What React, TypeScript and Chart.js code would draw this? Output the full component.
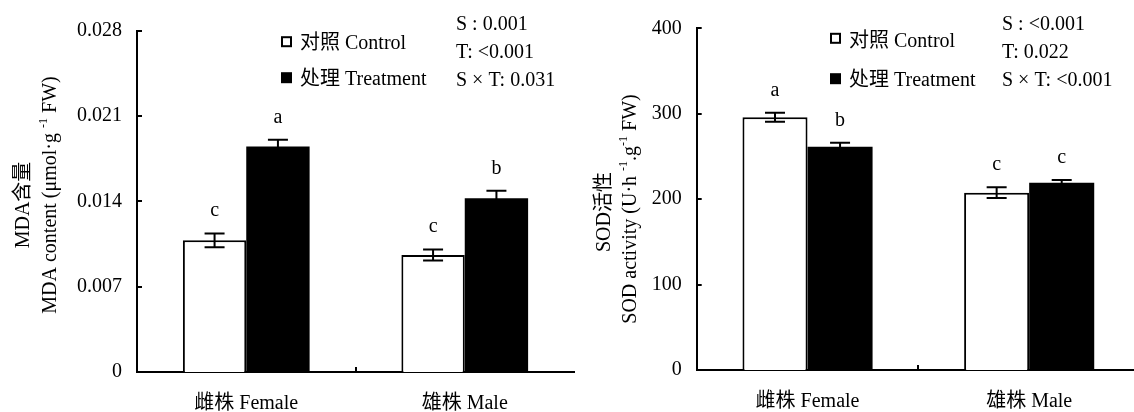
import React, { useEffect, useRef } from 'react';
import { Chart, registerables } from 'chart.js';

Chart.register(...registerables);

const FONT = '"Liberation Serif", "Times New Roman", "Noto Sans CJK SC", serif';

// ---- shared ----
const categories = ['雌株 Female', '雄株 Male'];
const seriesNames = ['对照 Control', '处理 Treatment'];

// ---- MDA panel ----
const mdaTicks = [0, 0.007, 0.014, 0.021, 0.028];
const mdaControl = [0.0108, 0.0096];
const mdaControlErr = [0.00057, 0.00045];
const mdaTreatment = [0.0185, 0.01426];
const mdaTreatmentErr = [0.00055, 0.0006];
const mdaControlLetters = ['c', 'c'];
const mdaTreatmentLetters = ['a', 'b'];
const mdaStats = ['S : 0.001', 'T: <0.001', 'S × T: 0.031'];
const mdaTitle1 = 'MDA含量';
const mdaTitle2 = [
  { t: 'MDA content (μmol·g ' },
  { t: '-1', sup: true },
  { t: ' FW)' },
];

// ---- SOD panel ----
const sodTicks = [0, 100, 200, 300, 400];
const sodControl = [295.8, 207.6];
const sodControlErr = [5.3, 6.4];
const sodTreatment = [261.4, 219.3];
const sodTreatmentErr = [4.7, 3.1];
const sodControlLetters = ['a', 'c'];
const sodTreatmentLetters = ['b', 'c'];
const sodStats = ['S : <0.001', 'T: 0.022', 'S × T: <0.001'];
const sodTitle1 = 'SOD活性';
const sodTitle2 = [
  { t: 'SOD activity (U·h ' },
  { t: '-1', sup: true },
  { t: '.g' },
  { t: '-1', sup: true },
  { t: ' FW)' },
];

type Seg = { t: string; sup?: boolean };

interface PanelProps {
  canvasLeft: number;
  canvasWidth: number;
  yWidth: number;
  padTop: number;
  padRight: number;
  xHeight: number;
  catPct: number;
  min: number;
  max: number;
  ticks: number[];
  fmt: (v: number) => string;
  control: number[];
  controlErr: number[];
  treatment: number[];
  treatmentErr: number[];
  controlLetters: string[];
  treatmentLetters: string[];
  stats: string[];
  statsX: number;
  statsY: number[];
  legendBoxX: number;
  legendBoxY: number[];
  legendTextX: number;
  legendTextY: number[];
  title1: string;
  title1Pos: [number, number];
  title2: Seg[];
  title2Pos: [number, number];
}

function drawRotatedRich(ctx: CanvasRenderingContext2D, segs: Seg[], cx: number, cy: number, size: number) {
  const main = `${size}px ${FONT}`;
  const small = `${Math.round(size * 0.62)}px ${FONT}`;
  let total = 0;
  const widths = segs.map((s) => {
    ctx.font = s.sup ? small : main;
    const w = ctx.measureText(s.t).width;
    total += w;
    return w;
  });
  ctx.save();
  ctx.translate(cx, cy);
  ctx.rotate(-Math.PI / 2);
  ctx.fillStyle = '#000';
  ctx.textAlign = 'left';
  ctx.textBaseline = 'alphabetic';
  let x = -total / 2;
  const base = size * 0.33;
  segs.forEach((s, i) => {
    ctx.font = s.sup ? small : main;
    ctx.fillText(s.t, x, s.sup ? base - size * 0.42 : base);
    x += widths[i];
  });
  ctx.restore();
}

function Panel(p: PanelProps) {
  const ref = useRef<HTMLCanvasElement>(null);
  useEffect(() => {
    const canvas = ref.current!;
    const ox = p.canvasLeft;
    const overlay = {
      id: 'overlay',
      afterDraw(chart: any) {
        const ctx: CanvasRenderingContext2D = chart.ctx;
        const area = chart.chartArea;
        const ys = chart.scales.y;
        const xs = chart.scales.x;
        ctx.save();
        ctx.strokeStyle = '#000';
        ctx.fillStyle = '#000';
        ctx.lineWidth = 2;
        // inward y ticks
        p.ticks.forEach((v) => {
          const y = Math.round(ys.getPixelForValue(v));
          ctx.beginPath();
          ctx.moveTo(area.left, y);
          ctx.lineTo(area.left + 5, y);
          ctx.stroke();
        });
        // middle x tick
        const mx = Math.round(xs.getPixelForValue(0.5));
        ctx.beginPath();
        ctx.moveTo(mx, area.bottom);
        ctx.lineTo(mx, area.bottom - 5);
        ctx.stroke();

        // error bars and letters
        const sets = [
          { vals: p.control, errs: p.controlErr, letters: p.controlLetters },
          { vals: p.treatment, errs: p.treatmentErr, letters: p.treatmentLetters },
        ];
        sets.forEach((s, di) => {
          const meta = chart.getDatasetMeta(di);
          meta.data.forEach((bar: any, i: number) => {
            const x = bar.x;
            const top = ys.getPixelForValue(s.vals[i] + s.errs[i]);
            const bot = ys.getPixelForValue(s.vals[i] - s.errs[i]);
            ctx.beginPath();
            ctx.moveTo(x, top);
            ctx.lineTo(x, bot);
            ctx.moveTo(x - 10, top);
            ctx.lineTo(x + 10, top);
            ctx.moveTo(x - 10, bot);
            ctx.lineTo(x + 10, bot);
            ctx.stroke();
            ctx.font = `20px ${FONT}`;
            ctx.textAlign = 'center';
            ctx.textBaseline = 'alphabetic';
            ctx.fillText(s.letters[i], x, top - 17);
          });
        });

        // legend
        const box = 11;
        p.legendBoxY.forEach((cy, i) => {
          const bx = p.legendBoxX - ox;
          if (i === 0) {
            ctx.fillStyle = '#fff';
            ctx.fillRect(bx, cy - box / 2, box, box);
            ctx.lineWidth = 2;
            ctx.strokeRect(bx + 1, cy - box / 2 + 1, box - 2, box - 2);
          } else {
            ctx.fillStyle = '#000';
            ctx.fillRect(bx, cy - box / 2, box, box);
          }
          ctx.fillStyle = '#000';
          ctx.font = `20px ${FONT}`;
          ctx.textAlign = 'left';
          ctx.textBaseline = 'middle';
          ctx.fillText(seriesNames[i], p.legendTextX - ox, p.legendTextY[i]);
        });

        // stats
        p.stats.forEach((t, i) => {
          ctx.font = `20px ${FONT}`;
          ctx.textAlign = 'left';
          ctx.textBaseline = 'middle';
          ctx.fillText(t, p.statsX - ox, p.statsY[i]);
        });

        // y titles
        drawRotatedRich(ctx, [{ t: p.title1 }], p.title1Pos[0] - ox, p.title1Pos[1], 20);
        drawRotatedRich(ctx, p.title2, p.title2Pos[0] - ox, p.title2Pos[1], 20);
        ctx.restore();
      },
    };

    const chart = new Chart(canvas, {
      type: 'bar',
      data: {
        labels: categories,
        datasets: [
          {
            label: seriesNames[0],
            data: p.control,
            backgroundColor: '#ffffff',
            borderColor: '#000000',
            borderWidth: 2,
            borderSkipped: 'bottom',
            categoryPercentage: p.catPct,
            barPercentage: 1,
          },
          {
            label: seriesNames[1],
            data: p.treatment,
            backgroundColor: '#000000',
            borderColor: '#000000',
            borderWidth: 0,
            categoryPercentage: p.catPct,
            barPercentage: 1,
          },
        ],
      },
      options: {
        responsive: false,
        maintainAspectRatio: false,
        animation: false,
        devicePixelRatio: 1,
        layout: { padding: { left: 0, top: p.padTop, right: p.padRight, bottom: 0 } },
        plugins: { legend: { display: false }, tooltip: { enabled: false } },
        scales: {
          x: {
            z: 1,
            grid: { display: false, drawTicks: false },
            border: { display: true, color: '#000', width: 2 },
            ticks: {
              font: { family: FONT, size: 20 },
              color: '#000',
              padding: 20,
              maxRotation: 0,
              autoSkip: false,
            },
            afterFit: (s: any) => {
              s.height = p.xHeight;
            },
          },
          y: {
            z: 1,
            min: p.min,
            max: p.max,
            grid: { display: false, drawTicks: false },
            border: { display: true, color: '#000', width: 2 },
            ticks: {
              font: { family: FONT, size: 20 },
              color: '#000',
              padding: 15,
              callback: (v: any) => p.fmt(Number(v)),
            },
            afterBuildTicks: (s: any) => {
              s.ticks = p.ticks.map((v) => ({ value: v }));
            },
            afterFit: (s: any) => {
              s.width = p.yWidth;
            },
          },
        },
      },
      plugins: [overlay],
    } as any);
    return () => chart.destroy();
  }, []);
  return (
    <canvas
      ref={ref}
      width={p.canvasWidth}
      height={412}
      style={{ position: 'absolute', left: p.canvasLeft, top: 0, width: p.canvasWidth, height: 412 }}
    />
  );
}

export default function App() {
  return (
    <div
      style={{
        position: 'fixed',
        left: 0,
        top: 0,
        width: 1134,
        height: 412,
        overflow: 'hidden',
        background: '#fff',
      }}
    >
      <Panel
        canvasLeft={0}
        canvasWidth={580}
        yWidth={137}
        padTop={30.7}
        padRight={6}
        xHeight={40}
        catPct={0.58}
        min={0}
        max={0.028}
        ticks={mdaTicks}
        fmt={(v) => (v === 0 ? '0' : v.toFixed(3))}
        control={mdaControl}
        controlErr={mdaControlErr}
        treatment={mdaTreatment}
        treatmentErr={mdaTreatmentErr}
        controlLetters={mdaControlLetters}
        treatmentLetters={mdaTreatmentLetters}
        stats={mdaStats}
        statsX={456}
        statsY={[25, 52.7, 80.7]}
        legendBoxX={281}
        legendBoxY={[41.7, 77.7]}
        legendTextX={300}
        legendTextY={[44, 80]}
        title1={mdaTitle1}
        title1Pos={[22, 205]}
        title2={mdaTitle2}
        title2Pos={[49, 195]}
      />
      <Panel
        canvasLeft={580}
        canvasWidth={580}
        yWidth={116.7}
        padTop={28.3}
        padRight={20}
        xHeight={42}
        catPct={0.587}
        min={0}
        max={400}
        ticks={sodTicks}
        fmt={(v) => String(v)}
        control={sodControl}
        controlErr={sodControlErr}
        treatment={sodTreatment}
        treatmentErr={sodTreatmentErr}
        controlLetters={sodControlLetters}
        treatmentLetters={sodTreatmentLetters}
        stats={sodStats}
        statsX={1002}
        statsY={[25, 52.7, 80.7]}
        legendBoxX={830}
        legendBoxY={[38.3, 78.7]}
        legendTextX={849}
        legendTextY={[41.5, 80.5]}
        title1={sodTitle1}
        title1Pos={[603, 212]}
        title2={sodTitle2}
        title2Pos={[629, 209]}
      />
    </div>
  );
}
